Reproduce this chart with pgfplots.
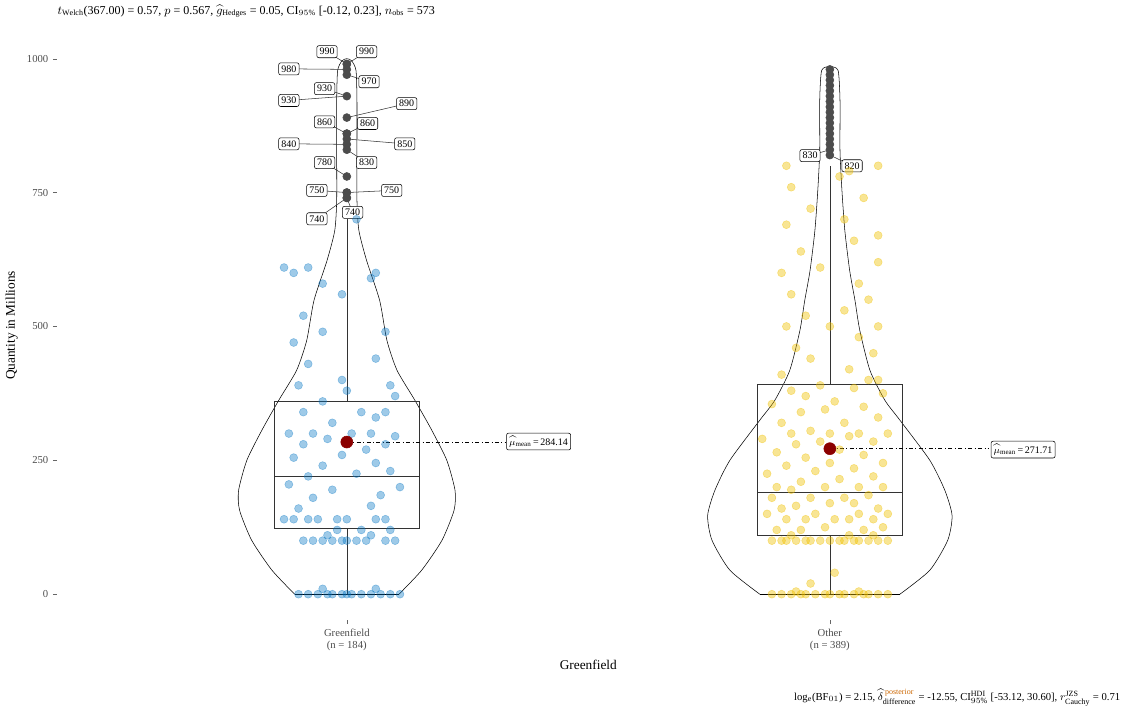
\documentclass[border=0pt]{standalone}
\usepackage{pgfplots}
\pgfplotsset{compat=1.18}
\usepackage{fontspec}
\setmainfont{Liberation Serif}
\definecolor{jblue}{HTML}{0073C2}
\definecolor{jyel}{HTML}{EFC000}
\definecolor{meanred}{HTML}{8B0000}
\begin{document}
\begin{tikzpicture}
\begin{axis}[at={(0,0)},anchor=south west,scale only axis,width=797pt,height=442pt,
xmin=0.4,xmax=2.6,ymin=-48.5,ymax=1052,clip=false,
axis line style={draw=none},tick pos=left,
xtick={1,2},xticklabels={{Greenfield\\(n = 184)},{Other\\(n = 389)}},
xticklabel style={align=center,font=\fontsize{8}{9}\selectfont,text=black!70},
ytick={0,250,500,750,1000},
yticklabel style={font=\fontsize{8}{9}\selectfont,text=black!70,/pgf/number format/1000 sep={}},
/pgf/number format/assume math mode=true,
tick style={black!60},major tick length=3pt,tick align=outside,
xlabel={Greenfield},ylabel={Quantity in Millions},
label style={font=\fontsize{10}{12}\selectfont},
]
% violins
\addplot[black,thin,smooth,tension=0.4] coordinates {(1.108,0)(1.155,44.8)(1.197,100.7)(1.222,156.7)(1.224,194)(1.207,250)(1.176,306)(1.141,362)(1.104,418)(1.083,474)(1.068,548.5)(1.041,623)(1.025,679)(1.021,735)(1.021,828)(1.021,922)(1.019,978)(1.01,996)(1,1000)(0.99,996)(0.981,978)(0.979,922)(0.979,828)(0.979,735)(0.975,679)(0.959,623)(0.932,548.5)(0.917,474)(0.896,418)(0.859,362)(0.824,306)(0.793,250)(0.776,194)(0.778,156.7)(0.803,100.7)(0.845,44.8)(0.892,0)};
\addplot[black,thin] coordinates {(0.892,0)(1.108,0)};
\addplot[black,thin,smooth,tension=0.4] coordinates {(2.145,0)(2.207,44.8)(2.244,100.7)(2.253,147)(2.238,194)(2.207,250)(2.145,325)(2.114,362)(2.083,418)(2.062,492.5)(2.052,548.5)(2.041,604.5)(2.031,679)(2.025,754)(2.021,828)(2.021,922)(2.017,978)(2,985)(1.983,978)(1.979,922)(1.979,828)(1.975,754)(1.969,679)(1.959,604.5)(1.948,548.5)(1.938,492.5)(1.917,418)(1.886,362)(1.855,325)(1.793,250)(1.762,194)(1.747,147)(1.756,100.7)(1.793,44.8)(1.855,0)};
\addplot[black,thin] coordinates {(1.855,0)(2.145,0)};
% boxes
\addplot[black!80,thin] coordinates {(0.85,123)(1.15,123)(1.15,360)(0.85,360)(0.85,123)};
\addplot[black!80,semithick] coordinates {(0.85,220)(1.15,220)};
\addplot[black!80,thin] coordinates {(1,0)(1,123)};
\addplot[black!80,thin] coordinates {(1,360)(1,700)};
\addplot[black!80,thin] coordinates {(1.85,110)(2.15,110)(2.15,392)(1.85,392)(1.85,110)};
\addplot[black!80,semithick] coordinates {(1.85,190)(2.15,190)};
\addplot[black!80,thin] coordinates {(2,0)(2,110)};
\addplot[black!80,thin] coordinates {(2,392)(2,800)};
% jitter points Greenfield
\addplot[only marks,mark=*,mark size=3pt,mark options={draw=jblue,fill=jblue,opacity=0.38}] coordinates {
(0.9,0)(0.92,0)(0.94,0)(0.96,0)(0.97,0)(0.99,0)(1.0,0)(1.01,0)(1.03,0)(1.05,0)(1.07,0)(1.09,0)(1.11,0)(0.95,10)(1.06,10)
(0.91,100)(0.93,100)(0.95,100)(0.97,100)(0.99,100)(1.0,100)(1.02,100)(1.04,100)(1.08,100)(1.1,100)(0.96,110)(1.05,110)
(0.98,120)(1.03,120)(1.09,120)(0.87,140)(0.89,140)(0.92,140)(0.94,140)(0.98,140)(1.0,140)(1.06,140)(1.08,140)
(0.9,160)(1.05,165)(0.93,180)(1.07,185)(0.97,195)(1.11,200)(0.88,205)
(0.92,220)(1.02,225)(1.09,230)(0.95,240)(1.06,245)(0.89,255)(0.99,260)(1.04,270)(0.91,280)(1.08,280)(0.96,290)(1.1,295)(0.93,300)(1.01,300)(1.05,300)(0.88,300)
(0.97,320)(1.06,330)(0.91,340)(1.03,340)(1.08,340)(0.95,360)(1.0,380)(0.9,390)(1.09,390)(0.99,400)(1.1,370)
(0.92,430)(1.06,440)(0.89,470)(0.95,490)(1.08,490)(0.91,520)(0.99,560)(0.95,580)(1.05,590)(0.89,600)(0.92,610)(0.87,610)(1.06,600)(1.02,700)};
% jitter points Other
\addplot[only marks,mark=*,mark size=3pt,mark options={draw=jyel,fill=jyel,opacity=0.42}] coordinates {
(1.88,0)(1.9,0)(1.92,0)(1.94,0)(1.95,0)(1.97,0)(1.99,0)(2.0,0)(2.02,0)(2.03,0)(2.05,0)(2.07,0)(2.08,0)(2.1,0)(2.12,0)(1.93,5)(2.06,5)(2.01,40)(1.96,20)
(1.88,100)(1.9,100)(1.91,100)(1.93,100)(1.95,100)(1.96,100)(1.98,100)(2.0,100)(2.02,100)(2.03,100)(2.05,100)(2.06,100)(2.08,100)(2.1,100)(2.12,100)(1.92,110)(2.04,110)(2.09,110)
(1.89,120)(1.94,120)(1.99,125)(2.07,120)(2.11,125)(1.91,140)(1.95,140)(2.01,140)(2.04,140)(2.09,140)(1.87,150)(1.97,150)(2.06,150)(2.12,150)
(1.9,160)(1.93,165)(2.0,170)(2.05,170)(2.1,160)(1.88,180)(1.96,180)(2.03,180)(2.08,185)(1.92,195)(1.99,200)(2.06,200)(2.11,200)(1.89,200)
(1.94,210)(2.02,215)(2.09,220)(1.87,225)(1.97,230)(2.05,235)(1.91,240)(2.0,245)(2.11,245)(1.95,255)(2.07,260)(1.89,265)(2.02,270)(1.93,280)(1.98,285)(2.09,285)(1.86,290)(2.04,295)(1.92,300)(2.0,300)(2.06,300)(2.12,300)(1.96,305)
(1.9,320)(2.03,320)(2.1,330)(1.94,340)(1.99,345)(2.07,350)(1.88,355)(2.01,360)(1.95,370)(2.11,375)(1.92,380)(2.05,385)(1.98,390)(2.08,400)(2.1,400)
(1.9,410)(2.04,420)(1.96,440)(2.09,450)(1.93,460)(2.06,480)(1.91,500)(2.0,500)(2.1,500)(1.95,520)(2.03,530)(2.08,550)(1.92,560)(2.06,580)(1.9,600)(1.98,610)(2.1,620)(1.94,640)(2.05,660)(2.1,670)(1.91,690)(2.03,700)(1.96,720)(2.07,740)(1.92,760)(2.02,780)(1.91,800)(2.1,800)(2.04,790)};
% outliers
\addplot[only marks,mark=*,mark size=3pt,mark options={draw=black!70,fill=black!70}] coordinates {(1,990)(1,990)(1,980)(1,970)(1,930)(1,890)(1,860)(1,860)(1,850)(1,840)(1,830)(1,780)(1,750)(1,750)(1,740)(1,740)};
\addplot[only marks,mark=*,mark size=3pt,mark options={draw=black!70,fill=black!70}] coordinates {(2,820)(2,830)(2,840)(2,850)(2,860)(2,870)(2,880)(2,890)(2,900)(2,910)(2,920)(2,930)(2,940)(2,950)(2,960)(2,970)(2,980)};
% outlier labels
\tikzset{lab/.style={draw,rounded corners=1.5pt,fill=white,inner sep=2pt,font=\fontsize{7.5}{8}\selectfont}}
\foreach \lx/\ly/\py/\t in {0.959/1013/990/990,1.041/1013/990/990,0.88/981/980/980,1.046/957/970/970,0.88/922/930/930,0.954/944/930/930,1.124/916/890/890,0.954/882/860/860,1.043/879/860/860,1.12/841/850/850,0.88/841/840/840,0.954/806/780/780,1.041/806/830/830,0.938/754/750/750,1.093/754/750/750,0.938/701/740/740,1.012/713/740/740,1.959/819/830/830,2.046/800/820/820}{
\edef\tmp{\noexpand\draw[black!80] (axis cs:\lx,\ly) -- (axis cs:{\ifdim\lx pt<1.5pt 1\else 2\fi},\py);
\noexpand\node[lab] at (axis cs:\lx,\ly) {\t};}\tmp}
% means
\draw[dash dot,black] (axis cs:1,284.14) -- (axis cs:1.33,284.14);
\draw[dash dot,black] (axis cs:2,271.71) -- (axis cs:2.33,271.71);
\addplot[only marks,mark=*,mark size=4.5pt,mark options={draw=meanred,fill=meanred}] coordinates {(1,284.14)(2,271.71)};
\node[lab] at (axis cs:1.397,285) {$\widehat{\mu}_{\mathrm{mean}}$\,=\,284.14};
\node[lab] at (axis cs:2.40,270) {$\widehat{\mu}_{\mathrm{mean}}$\,=\,271.71};
\end{axis}
\node[anchor=west,font=\fontsize{9}{10}\selectfont] at (-3pt,457pt) {$t_{\mathrm{Welch}}$(367.00) = 0.57, $p$ = 0.567, $\widehat{g}_{\mathrm{Hedges}}$ = 0.05, CI$_{95\%}$ [-0.12, 0.23], $n_{\mathrm{obs}}$ = 573};
\node[anchor=east,font=\fontsize{8}{9}\selectfont] at (801pt,-58pt) {log$_{\mathrm{e}}$(BF$_{01}$) = 2.15, $\widehat{\delta}_{\mathrm{difference}}^{\,\textcolor{orange!80!black}{\mathrm{posterior}}}$ = -12.55, CI$_{95\%}^{\mathrm{HDI}}$ [-53.12, 30.60], $r_{\mathrm{Cauchy}}^{\mathrm{JZS}}$ = 0.71};
\useasboundingbox (-42.75pt,-66.75pt) rectangle (801.75pt,465pt);
\end{tikzpicture}
\end{document}
